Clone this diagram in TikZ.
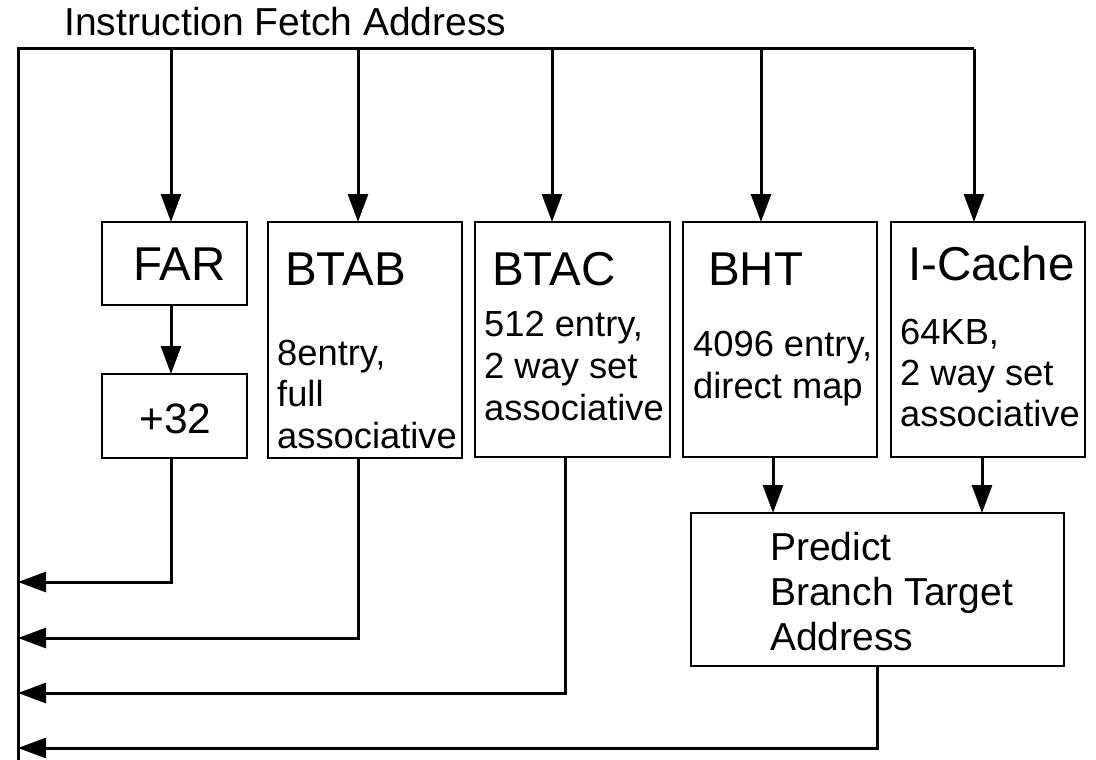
\documentclass[tikz,border=0pt]{standalone}
\usepackage{fontspec}
\setmainfont{Liberation Sans}
\usetikzlibrary{arrows.meta}
\begin{document}
\begin{tikzpicture}[x=1pt,y=-1pt,
  wire/.style={line width=3pt},
  arr/.style={wire,-{Triangle[length=28pt,width=20pt]}},
  box/.style={draw,line width=2.8pt,inner sep=0pt,outer sep=0pt},
  title/.style={anchor=base west,inner sep=0pt,font=\fontsize{47.5}{50}\selectfont},
  body/.style={anchor=base west,inner sep=0pt,font=\fontsize{36.3}{42}\selectfont},
  big/.style={anchor=base west,inner sep=0pt,font=\fontsize{39}{45}\selectfont},
]
\useasboundingbox (0,0) rectangle (1096,760);

% blocks
\node[box,minimum width=145pt,minimum height=83pt]  (far)    at (174.5,263.5) {};
\node[box,minimum width=145pt,minimum height=84pt]  (plus)   at (174.5,416) {};
\node[box,minimum width=194pt,minimum height=236pt] (btab)   at (365,340) {};
\node[box,minimum width=195pt,minimum height=235pt] (btac)   at (572.5,339.5) {};
\node[box,minimum width=194pt,minimum height=235pt] (bht)    at (780,339.5) {};
\node[box,minimum width=194pt,minimum height=235pt] (icache) at (988,339.5) {};
\node[box,minimum width=373pt,minimum height=153pt] (pred)   at (877.5,589.5) {};

% block texts
\node[big] (lblIFA) at (64,36) {Instruction Fetch Address};
\node[title] (tFAR) at (133,280) {FAR};
\node[anchor=base west,inner sep=0pt,font=\fontsize{42.5}{46}\selectfont] (tPlus) at (139,433) {+32};

\node[title] (tBTAB) at (285,285) {BTAB};
\node[body] (bBTAB1) at (277,365.7) {8entry,};
\node[body] (bBTAB2) at (277,406.7) {full};
\node[body] (bBTAB3) at (277,448) {associative};

\node[title] (tBTAC) at (492,285) {BTAC};
\node[body] (bBTAC1) at (484,336.7) {512 entry,};
\node[body] (bBTAC2) at (484,378) {2 way set};
\node[body] (bBTAC3) at (484,420) {associative};

\node[title] (tBHT) at (708,285) {BHT};
\node[body] (bBHT1) at (693,356.7) {4096 entry,};
\node[body] (bBHT2) at (693,398) {direct map};

\node[title] (tIC) at (908,280) {I-Cache};
\node[body] (bIC1) at (900,344) {64KB,};
\node[body] (bIC2) at (900,385) {2 way set};
\node[body] (bIC3) at (900,426.7) {associative};

\node[big] (bPred1) at (770,560.7) {Predict};
\node[big] (bPred2) at (770,605.7) {Branch Target};
\node[big] (bPred3) at (770,650) {Address};

% fetch-address bus and return rail
\coordinate (railB) at (18,760);
\coordinate (busL)  at (18,49);
\coordinate (busR)  at (974,49);
\draw[wire] (railB) -- (busL) -- (busR);

% taps on the bus
\coordinate (dFAR)  at (171,49);
\coordinate (dBTAB) at (358,49);
\coordinate (dBTAC) at (552,49);
\coordinate (dBHT)  at (761,49);
\coordinate (dIC)   at (974,49);
\draw[arr] (dFAR)  -- (dFAR  |- far.north);
\draw[arr] (dBTAB) -- (dBTAB |- btab.north);
\draw[arr] (dBTAC) -- (dBTAC |- btac.north);
\draw[arr] (dBHT)  -- (dBHT  |- bht.north);
\draw[arr] (dIC)   -- (dIC   |- icache.north);

% FAR -> +32
\draw[arr] (far.south -| dFAR) -- (plus.north -| dFAR);

% BHT and I-Cache -> prediction
\coordinate (xBHT) at (773,0);
\coordinate (xIC)  at (982,0);
\draw[arr] (bht.south -| xBHT) -- (pred.north -| xBHT);
\draw[arr] (icache.south -| xIC) -- (pred.north -| xIC);

% results returned to the fetch address rail
\coordinate (r1) at (18,582);
\coordinate (r2) at (18,638);
\coordinate (r3) at (18,693);
\coordinate (r4) at (18,748);
\coordinate (xBTAC) at (565,0);
\coordinate (xPred) at (877,0);
\draw[arr] (plus.south -| dFAR)  |- (r1);
\draw[arr] (btab.south -| dBTAB) |- (r2);
\draw[arr] (btac.south -| xBTAC) |- (r3);
\draw[arr] (pred.south -| xPred) |- (r4);
\end{tikzpicture}
\end{document}
